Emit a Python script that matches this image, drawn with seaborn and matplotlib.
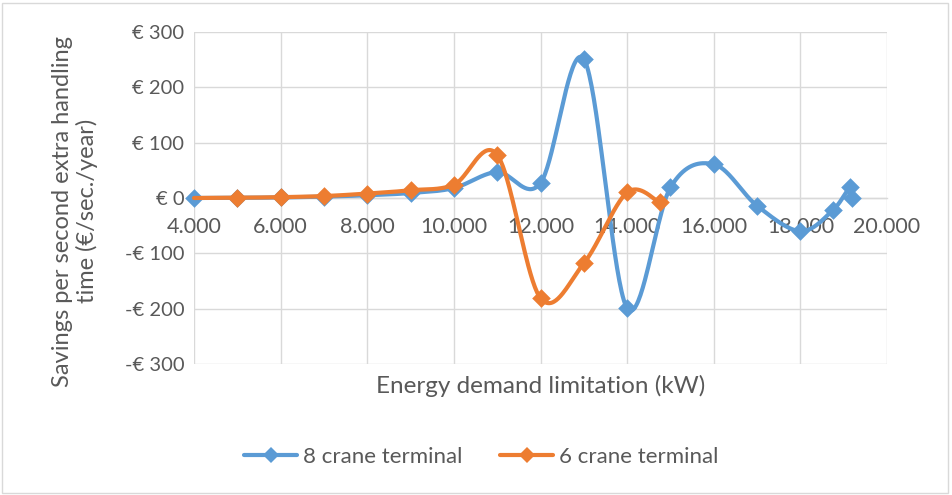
import numpy as np
import pandas as pd
import matplotlib
matplotlib.use("Agg")
import matplotlib.pyplot as plt
import seaborn as sns
from matplotlib.lines import Line2D
from matplotlib.patches import Rectangle

# ---- data ----
x_8crane = [4000, 5000, 6000, 7000, 8000, 9000, 10000, 11000, 12000, 13000,
            14000, 15000, 16000, 17000, 18000, 18750, 19150, 19200]
y_8crane = [0, 0.3, 1, 2.5, 5, 9, 18, 47, 27, 251,
            -199, 19, 61, -14, -60, -22, 20, 0]
x_6crane = [4000, 5000, 6000, 7000, 8000, 9000, 10000, 11000, 12000, 13000,
            14000, 14750]
y_6crane = [0, 0.5, 1.5, 3.5, 8, 14, 24, 78, -181, -118, 10, -8]
series_names = ["8 crane terminal", "6 crane terminal"]
colors = ["#5B9BD5", "#ED7D31"]
x_ticks = [4000, 6000, 8000, 10000, 12000, 14000, 16000, 18000, 20000]
y_ticks = [-300, -200, -100, 0, 100, 200, 300]


def smooth(xs, ys, n=40):
    """Excel-like smoothed line (Catmull-Rom Bezier segments)."""
    P = np.column_stack([xs, ys]).astype(float)
    out = []
    m = len(P)
    for i in range(m - 1):
        p0 = P[i - 1] if i > 0 else P[i]
        p1 = P[i]
        p2 = P[i + 1]
        p3 = P[i + 2] if i + 2 < m else P[i + 1]
        c1 = p1 + (p2 - p0) / 6.0
        c2 = p2 - (p3 - p1) / 6.0
        t = np.linspace(0, 1, n)[:, None]
        seg = ((1 - t) ** 3) * p1 + 3 * ((1 - t) ** 2) * t * c1 + 3 * (1 - t) * t ** 2 * c2 + t ** 3 * p2
        out.append(seg if i == 0 else seg[1:])
    return np.vstack(out)


sns.set_theme(style="white")
plt.rcParams['font.family'] = ['Lato', 'DejaVu Sans']
text_color = "#595959"

fig = plt.figure(figsize=(9.52, 4.95), dpi=100)
ax = fig.add_axes([194 / 952, 1 - 364 / 495, (887 - 194) / 952, (364 - 32) / 495])

lw = 3.0
for xs, ys, name, col, z in [(x_8crane, y_8crane, series_names[0], colors[0], 3),
                             (x_6crane, y_6crane, series_names[1], colors[1], 5)]:
    s = smooth(xs, ys)
    df = pd.DataFrame({"x": s[:, 0], "y": s[:, 1]})
    sns.lineplot(data=df, x="x", y="y", ax=ax, sort=False, color=col, linewidth=lw,
                 zorder=z, clip_on=False, estimator=None)

# markers
dfb = pd.DataFrame({"x": x_8crane, "y": y_8crane})
sns.scatterplot(data=dfb, x="x", y="y", ax=ax, marker="D", s=90, color=colors[0],
                edgecolor=colors[0], linewidth=0, zorder=4, clip_on=False)
dfo = pd.DataFrame({"x": x_6crane[1:], "y": y_6crane[1:]})
sns.scatterplot(data=dfo, x="x", y="y", ax=ax, marker="D", s=90, color=colors[1],
                edgecolor=colors[1], linewidth=0, zorder=6, clip_on=False)

ax.set_xlim(4000, 20000)
ax.set_ylim(-300, 300)
ax.set_xticks(x_ticks)
ax.set_yticks(y_ticks)
ax.set_xticklabels([f"{v:,}".replace(",", ".") for v in x_ticks])
ax.set_yticklabels([("-€ " if v < 0 else "€ ") + str(abs(v)) for v in y_ticks])
ax.grid(True, color="#D9D9D9", linewidth=1.0, zorder=0)
ax.set_axisbelow(True)
for sp in ["top", "right", "left"]:
    ax.spines[sp].set_visible(False)
ax.spines["bottom"].set_position(("data", 0))
ax.spines["bottom"].set_color("#D9D9D9")
ax.spines["bottom"].set_linewidth(1.0)
ax.tick_params(axis="x", length=0, pad=14, labelsize=15.5, labelcolor=text_color)
ax.tick_params(axis="y", length=0, pad=7, labelsize=14.5, labelcolor=text_color)
ax.set_xlabel("")
ax.set_ylabel("")

fig.text(541 / 952, 1 - 386 / 495, "Energy demand limitation (kW)", ha="center", va="center",
         fontsize=17.5, color=text_color)
fig.text(75 / 952, 1 - 211 / 495, "Savings per second extra handling\ntime (€/sec./year)",
         ha="center", va="center", rotation=90, fontsize=17, color=text_color,
         multialignment="center", linespacing=1.15)

handles = [Line2D([0], [0], color=c, lw=lw, marker="D", markersize=8, markeredgewidth=0)
           for c in colors]
fig.legend(handles, series_names, loc="center", bbox_to_anchor=(481 / 952, 1 - 457 / 495),
           ncol=2, frameon=False, fontsize=16, labelcolor=text_color, handlelength=2.4,
           handletextpad=0.25, columnspacing=1.7)

fig.patches.append(Rectangle((2 / 952, 2 / 495), 946 / 952, 490 / 495, transform=fig.transFigure,
                             fill=False, edgecolor="#D9D9D9", linewidth=1.0))

fig.savefig("out.png", dpi=100)
